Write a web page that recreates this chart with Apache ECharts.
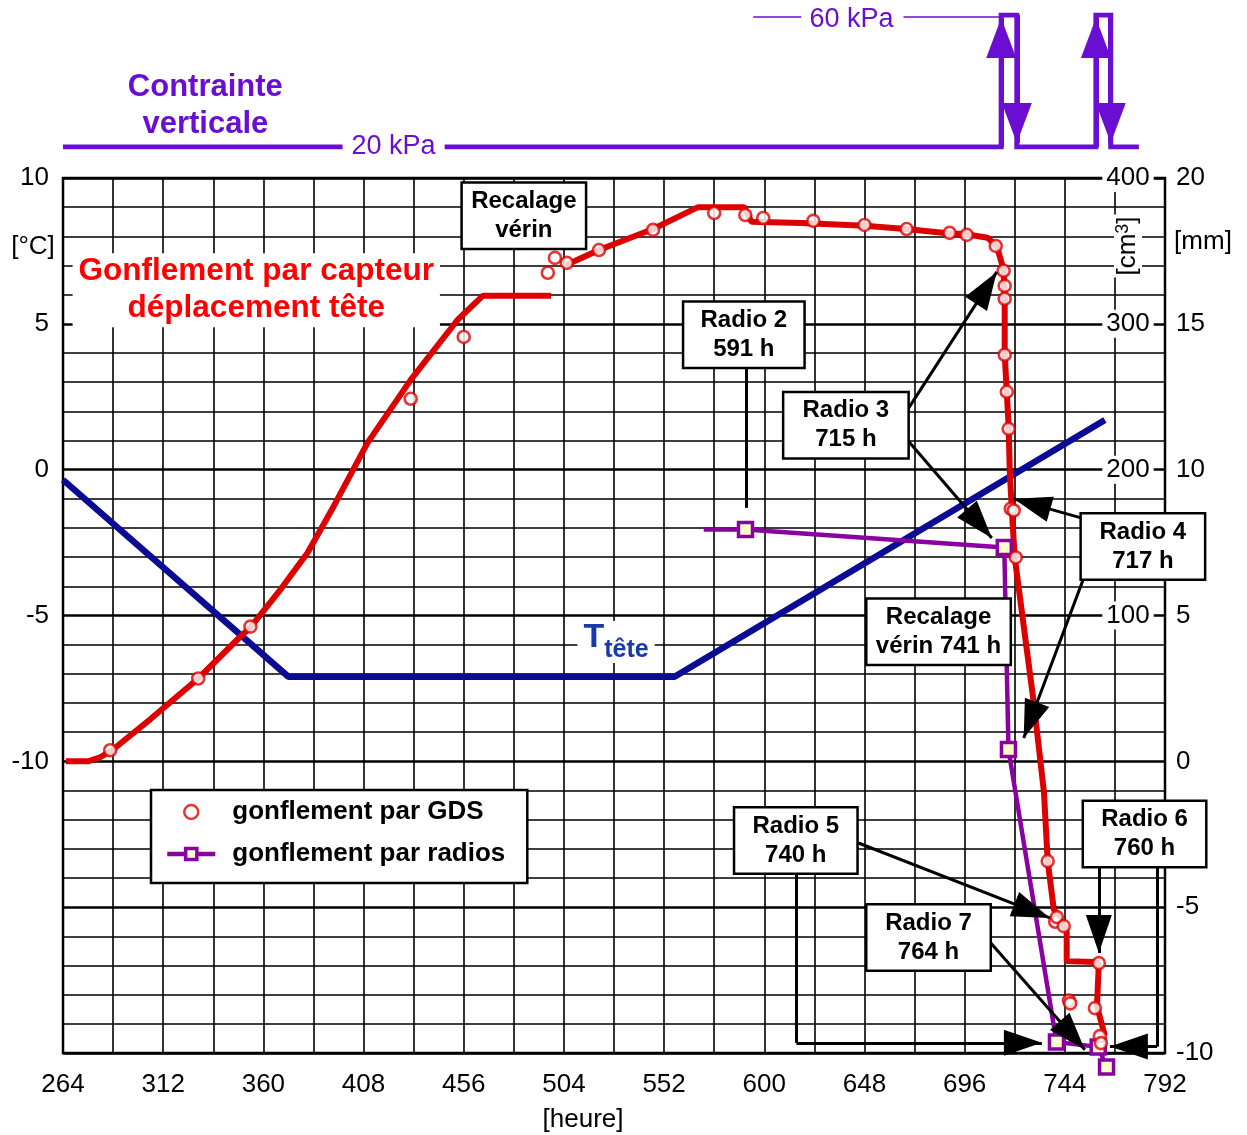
<!DOCTYPE html>
<html>
<head>
<meta charset="utf-8">
<script src="https://cdn.jsdelivr.net/npm/echarts@6.0.0/dist/echarts.min.js"></script>
<style>
  html, body { margin: 0; padding: 0; background: #fff; }
  #chart { width: 1247px; height: 1135px; }
</style>
</head>
<body>
<div id="chart"></div>
<script>
const FONT = "'Liberation Sans', Arial, Helvetica, sans-serif";

// Head temperature T_tête [°C] vs time [heure]
const tempHours = [264, 372, 557, 763.2];
const tempC = [-0.35, -7.1, -7.1, 1.7];

// Swelling from the head displacement sensor [mm] (null = interruption at the jack reset)
const sensorHours = [265.4, 276, 281.8, 287.5, 305.8, 328.8, 349, 353.8, 368.2, 381.1, 393.6, 409.9, 430.6, 453.1,
  465.1, 497.8, 500, 505, 520.8, 546.7, 568.3, 590.4, 593.8, 617.8, 648, 668, 689, 696, 707, 711.4, 714.7, 715.2,
  715.2, 716.2, 717.1, 717.6, 718.6, 720, 729.1, 734, 735.8, 738.7, 741.1, 743.5, 744.9, 744.9, 758.4, 760.3, 759.4, 763.2];
const sensorMm = [0, 0, 0.14, 0.38, 1.44, 2.84, 4.28, 4.59, 5.89, 7.14, 8.73, 10.92, 13.08, 15.14,
  15.96, 15.96, null, 17.02, 17.53, 18.25, 19.0, 19.0, 18.5, 18.46, 18.36, 18.25, 18.1, 18.08, 17.95, 17.67, 16.85, 15.82,
  13.94, 12.67, 11.44, 10.0, 8.63, 6.99, 2.02, -1.06, -3.42, -5.07, -5.34, -5.65, -5.85, -6.85, -6.88, -6.92, -8.4, -9.4];

// Swelling measured by GDS [mm]
const gdsHours = [286.6, 328.8, 353.8, 430.6, 456.0, 496.3, 499.7, 505.4, 520.8, 546.7, 576.0, 590.9, 599.5, 623.5,
  648.0, 668.2, 688.8, 697.0, 710.9, 714.7, 715.2, 715.2, 715.2, 716.2, 717.1, 718.1, 719.5, 720.5, 735.8, 739.4,
  740.2, 743.5, 760.3, 746.0, 746.6, 758.4, 760.8, 761.3];
const gdsMm = [0.38, 2.84, 4.62, 12.43, 14.55, 16.75, 17.26, 17.09, 17.53, 18.22, 18.80, 18.73, 18.63, 18.53,
  18.39, 18.25, 18.12, 18.05, 17.67, 16.82, 16.30, 15.86, 13.94, 12.67, 11.40, 8.66, 8.60, 6.99, -3.42, -5.50,
  -5.34, -5.65, -6.92, -8.20, -8.30, -8.46, -9.42, -9.66];

// Swelling from radiographs [mm]; the first point only starts the segment
const radioHours = [571, 591, 715, 717, 740, 760, 764];
const radioMm = [7.95, 7.95, 7.33, 0.41, -9.62, -9.79, -10.48];

// Vertical stress history [kPa]
const pressureHours = [264, 713.5, 713.5, 721, 721, 758.9, 758.9, 766, 766, 779.5];
const pressureKPa = [20, 20, 60, 60, 20, 20, 60, 60, 20, 20];

// Call-out boxes: text, centre [heure, mm], box width
const calloutText = ['Recalage\nvérin', 'Radio 2\n591 h', 'Radio 3\n715 h', 'Radio 4\n717 h',
  'Recalage\nvérin 741 h', 'Radio 5\n740 h', 'Radio 6\n760 h', 'Radio 7\n764 h'];
const calloutAt = [[484.8, 18.71], [590.2, 14.63], [639.1, 11.52], [781.4, 7.37],
  [683.5, 4.44], [615.1, -2.71], [782.2, -2.49], [678.7, -6.04]];
const calloutWidth = [122, 119, 123, 122, 142, 121, 121, 122];

// Leader lines [from, to] in [heure, mm]; arrowheads on the "to" end
const leaderPlain = [
  [[591.4, 13.6], [591.4, 8.69]],
  [[615.4, -3.83], [615.4, -9.65]],
  [[788.2, -3.59], [788.2, -9.78]]
];
const leaderArrows = [
  [[668.6, 12.05], [711.4, 16.78]],
  [[668.6, 11.02], [709.0, 7.66]],
  [[752.2, 8.34], [719.5, 9.0]],
  [[753.1, 6.29], [724.3, 0.8]],
  [[645.1, -2.80], [736.8, -5.37]],
  [[615.4, -9.65], [733.0, -9.65]],
  [[760.3, -3.59], [760.3, -6.57]],
  [[788.2, -9.78], [765.6, -9.78]],
  [[708.5, -6.23], [753.6, -9.89]]
];

// Loading arrows on the stress curve [heure, kPa from, kPa to]
const loadArrows = [[713.5, 20, 59.1], [721, 60, 21.2], [758.9, 20, 59.1], [766, 60, 21.2]];

const pairs = (xs, ys) => xs.map((x, i) => [x, ys[i]]);

function seg(from, to, extra) {
  return [Object.assign({ coord: from, symbol: 'none' }, extra || {}), { coord: to, symbol: 'none' }];
}
function arrow(from, to, w, h, extra) {
  return [Object.assign({ coord: from, symbol: 'none' }, extra || {}),
    { coord: to, symbol: 'triangle', symbolSize: [w, h], symbolOffset: [0, h / 2] }];
}
function textMark(at, text, label) {
  return {
    coord: at, symbol: 'rect', symbolSize: 1, itemStyle: { color: 'rgba(0,0,0,0)' },
    label: Object.assign({ show: true, position: 'inside', formatter: text, fontFamily: FONT }, label)
  };
}

const calloutBoxes = calloutText.map((t, i) => textMark(calloutAt[i], t, {
  width: calloutWidth[i], padding: [3, 0], lineHeight: 29, fontSize: 24, fontWeight: 'bold',
  color: '#000', backgroundColor: '#fff', borderColor: '#000', borderWidth: 2.5, align: 'center'
}));

const freeLabels = [
  textMark([356.6, 16.15], 'Gonflement par capteur\ndéplacement tête', {
    fontSize: 31.5, fontWeight: 'bold', color: '#ff0000', lineHeight: 37,
    backgroundColor: '#fff', padding: [0, 6], align: 'center'
  }),
  textMark([529, 4.09], '{t|T}{s|tête}', {
    backgroundColor: '#fff', padding: [0, 6],
    rich: {
      t: { fontSize: 34, fontWeight: 'bold', color: '#1a3aa8', fontFamily: FONT, verticalAlign: 'top', lineHeight: 42 },
      s: { fontSize: 25, fontWeight: 'bold', color: '#1a3aa8', fontFamily: FONT, verticalAlign: 'bottom', lineHeight: 42 }
    }
  })
];

const PURPLE = '#6a0fd2';
const TICK_FONT = 26;

const option = {
  animation: false,
  backgroundColor: '#fff',
  textStyle: { fontFamily: FONT },
  grid: [
    { left: 63, right: 82, top: 178, bottom: 82, show: true, borderColor: '#000', borderWidth: 2.5, outerBoundsMode: 'none' },
    { left: 63, right: 82, top: 15, height: 132, outerBoundsMode: 'none' }
  ],
  xAxis: [
    {
      gridIndex: 0, type: 'value', min: 264, max: 792, interval: 48,
      axisLine: { show: false }, axisTick: { show: false },
      axisLabel: { fontSize: TICK_FONT, color: '#000', margin: 19, fontFamily: FONT },
      splitLine: { show: true, lineStyle: { color: '#000', width: 1.6 } },
      minorTick: { show: false, splitNumber: 2 },
      minorSplitLine: { show: true, lineStyle: { color: '#000', width: 1.6 } }
    },
    { gridIndex: 1, type: 'value', min: 264, max: 792, show: false }
  ],
  yAxis: [
    {
      gridIndex: 0, type: 'value', min: -20, max: 10, interval: 5,
      axisLine: { show: false }, axisTick: { show: false },
      axisLabel: { fontSize: TICK_FONT, color: '#000', margin: 14, fontFamily: FONT, formatter: v => (v >= -10 ? String(v) : '') },
      splitLine: { show: true, lineStyle: { color: '#000', width: 2.6 } },
      minorTick: { show: false, splitNumber: 5 },
      minorSplitLine: { show: true, lineStyle: { color: '#000', width: 1.5 } }
    },
    {
      gridIndex: 0, type: 'value', position: 'right', min: -10, max: 20, interval: 5,
      axisLine: { show: false }, axisTick: { show: false }, splitLine: { show: false },
      axisLabel: { fontSize: TICK_FONT, color: '#000', margin: 11, fontFamily: FONT }
    },
    {
      gridIndex: 0, type: 'value', position: 'right', offset: -50, min: -200, max: 400, interval: 100, z: 5,
      axisLine: { show: false }, axisTick: { show: false }, splitLine: { show: false },
      axisLabel: {
        margin: 13, align: 'center',
        formatter: v => (v >= 100 ? '{w|' + v + '}' : ''),
        rich: { w: { fontSize: TICK_FONT, color: '#000', fontFamily: FONT, backgroundColor: '#fff', padding: [1, 4] } }
      }
    },
    { gridIndex: 1, type: 'value', min: 20, max: 60, show: false }
  ],
  legend: {
    data: [
      { name: 'gonflement par GDS', itemStyle: { borderWidth: 2.5 } },
      { name: 'gonflement par radios', lineStyle: { width: 4.5 }, itemStyle: { borderWidth: 3.5 } }
    ],
    orient: 'vertical', left: 151, top: 790,
    padding: [8, 22, 15, 14], itemGap: 14, itemWidth: 48, itemHeight: 14,
    backgroundColor: '#fff', borderColor: '#000', borderWidth: 2.5, borderRadius: 0,
    selectedMode: false,
    textStyle: { fontSize: 26, fontWeight: 'bold', color: '#000', fontFamily: FONT, padding: [0, 0, 0, 12], lineHeight: 28 }
  },
  graphic: [
    { type: 'text', x: 33, y: 247, z: 100, style: { text: '[°C]', fontSize: TICK_FONT, fontFamily: FONT, fill: '#000', align: 'center', verticalAlign: 'middle' } },
    { type: 'text', x: 1203, y: 242, z: 100, style: { text: '[mm]', fontSize: TICK_FONT, fontFamily: FONT, fill: '#000', align: 'center', verticalAlign: 'middle' } },
    { type: 'text', x: 583, y: 1120, z: 100, style: { text: '[heure]', fontSize: TICK_FONT, fontFamily: FONT, fill: '#000', align: 'center', verticalAlign: 'middle' } },
    {
      type: 'text', x: 1128, y: 246, z: 100, rotation: Math.PI / 2,
      style: {
        text: '[cm{s|3}]', fontSize: TICK_FONT, fontFamily: FONT, fill: '#000', align: 'center', verticalAlign: 'middle',
        backgroundColor: '#fff', padding: [0, 2], lineHeight: 28,
        rich: { s: { fontSize: 18, fontFamily: FONT, fill: '#000', verticalAlign: 'top', lineHeight: 28 } }
      }
    }
  ],
  series: [
    {
      name: 'Ttête', type: 'line', xAxisIndex: 0, yAxisIndex: 0, z: 2,
      data: pairs(tempHours, tempC), showSymbol: false,
      lineStyle: { color: '#0b0b94', width: 6.5 }
    },
    {
      name: 'Gonflement par capteur déplacement tête', type: 'line', xAxisIndex: 0, yAxisIndex: 1, z: 3,
      data: pairs(sensorHours, sensorMm), showSymbol: false, connectNulls: false,
      lineStyle: { color: '#dd0000', width: 6 }
    },
    {
      name: 'gonflement par radios', type: 'line', xAxisIndex: 0, yAxisIndex: 1, z: 4, clip: false,
      data: pairs(radioHours, radioMm).map((p, i) => (i === 0 ? { value: p, symbol: 'none' } : p)),
      symbol: 'rect', symbolSize: 14, showAllSymbol: true,
      itemStyle: { color: '#ffffcc', borderColor: '#8b00a0', borderWidth: 3.5 },
      lineStyle: { color: '#8b00a0', width: 4.5 }
    },
    {
      name: 'gonflement par GDS', type: 'scatter', xAxisIndex: 0, yAxisIndex: 1, z: 4, clip: false,
      data: pairs(gdsHours, gdsMm), symbol: 'circle', symbolSize: 12,
      itemStyle: { color: '#fff', borderColor: '#e00000', borderWidth: 2.6 }
    },
    {
      name: 'callouts', type: 'line', xAxisIndex: 0, yAxisIndex: 1, z: 10, data: [], silent: true,
      markLine: {
        silent: true, animation: false, symbol: ['none', 'none'], label: { show: false },
        lineStyle: { color: '#000', width: 3, type: 'solid' }, itemStyle: { color: '#000' },
        emphasis: { disabled: true },
        data: leaderPlain.map(l => seg(l[0], l[1])).concat(leaderArrows.map(l => arrow(l[0], l[1], 26, 38)))
      },
      markPoint: { silent: true, animation: false, data: calloutBoxes.concat(freeLabels) }
    },
    {
      name: 'Contrainte verticale', type: 'line', xAxisIndex: 1, yAxisIndex: 3, z: 3,
      data: pairs(pressureHours, pressureKPa), showSymbol: false,
      lineStyle: { color: PURPLE, width: 5, join: 'miter' }
    },
    {
      name: 'stress notes', type: 'line', xAxisIndex: 1, yAxisIndex: 3, z: 10, data: [], silent: true,
      markLine: {
        silent: true, animation: false, symbol: ['none', 'none'], label: { show: false },
        lineStyle: { color: PURPLE, width: 5, type: 'solid' }, itemStyle: { color: PURPLE },
        emphasis: { disabled: true },
        data: loadArrows.map(a => arrow([a[0], a[1]], [a[0], a[2]], 30, 40)).concat([
          seg([594.7, 59.4], [617.7, 59.4], { lineStyle: { width: 1.5 } }),
          seg([666.7, 59.4], [713.5, 59.4], { lineStyle: { width: 1.5 } })
        ])
      },
      markPoint: {
        silent: true, animation: false,
        data: [
          textMark([332.2, 32.3], 'Contrainte\nverticale', { fontSize: 31, fontWeight: 'bold', color: PURPLE, lineHeight: 37, align: 'center' }),
          textMark([422.4, 20], '20 kPa', { fontSize: 27, color: PURPLE, backgroundColor: '#fff', padding: [2, 9], align: 'center' }),
          textMark([641.8, 58.6], '60 kPa', { fontSize: 27, color: PURPLE, backgroundColor: '#fff', padding: [2, 7], align: 'center' })
        ]
      }
    }
  ]
};

const chart = echarts.init(document.getElementById('chart'), null, { renderer: 'canvas' });
chart.setOption(option);
</script>
</body>
</html>
